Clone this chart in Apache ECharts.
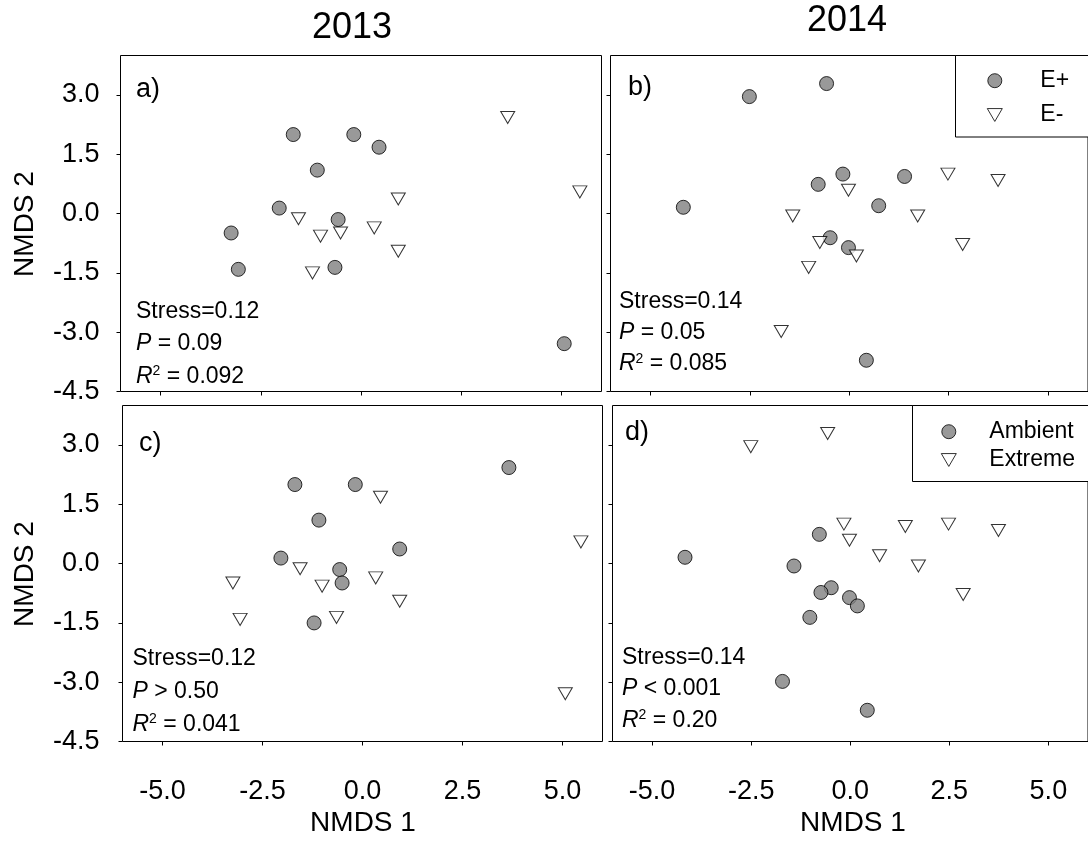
<!DOCTYPE html>
<html>
<head>
<meta charset="utf-8">
<title>NMDS ordinations 2013-2014</title>
<script src="https://cdn.jsdelivr.net/npm/echarts@6.0.0/dist/echarts.min.js"></script>
<style>
  html, body { margin: 0; padding: 0; background: #fff; }
  #chart { width: 1088px; height: 841px; }
</style>
</head>
<body>
<div id="chart"></div>
<script>
// ---- 2013 ordination: site scores and treatments (19 plots) ----
const nmds1_2013 = [-1.69, -2.04, -3.24, -3.06, -0.18, 0.45, -1.09, -0.57, -0.65, 5.07,
                    3.66, 5.46, 0.93, -1.01, -0.51, 0.33, 0.93, -1.21, -1.56];
const nmds2_2013 = [2.00, 0.14, -0.49, -1.41, 2.00, 1.68, 1.10, -0.15, -1.36, -3.29,
                    2.43, 0.55, 0.37, -0.57, -0.49, -0.36, -0.95, -1.50, -0.13];
const endophyte2013 = ['E+', 'E+', 'E+', 'E+', 'E+', 'E+', 'E+', 'E+', 'E+', 'E+',
                       'E-', 'E-', 'E-', 'E-', 'E-', 'E-', 'E-', 'E-', 'E-'];
const rainfall2013 = ['Ambient', 'Ambient', 'Extreme', 'Extreme', 'Ambient', 'Extreme', 'Ambient', 'Ambient', 'Extreme', 'Extreme',
                      'Ambient', 'Extreme', 'Ambient', 'Extreme', 'Ambient', 'Extreme', 'Extreme', 'Ambient', 'Extreme'];

// ---- 2014 ordination: site scores and treatments (20 plots) ----
const nmds1_2014 = [-2.51, -0.57, -4.17, -0.16, -0.78, 1.39, 0.74, -0.48, -0.02, 0.43,
                    -0.02, 2.48, 3.74, -1.42, 1.72, -0.74, 0.18, 2.85, -1.02, -1.71];
const nmds2_2014 = [2.96, 3.29, 0.16, 1.00, 0.74, 0.94, 0.20, -0.61, -0.86, -3.71,
                    0.59, 1.00, 0.84, -0.06, -0.06, -0.73, -1.07, -0.78, -1.36, -2.98];
const endophyte2014 = ['E+', 'E+', 'E+', 'E+', 'E+', 'E+', 'E+', 'E+', 'E+', 'E+',
                       'E-', 'E-', 'E-', 'E-', 'E-', 'E-', 'E-', 'E-', 'E-', 'E-'];
const rainfall2014 = ['Extreme', 'Extreme', 'Ambient', 'Extreme', 'Ambient', 'Extreme', 'Extreme', 'Ambient', 'Ambient', 'Ambient',
                      'Extreme', 'Extreme', 'Extreme', 'Ambient', 'Extreme', 'Ambient', 'Ambient', 'Extreme', 'Ambient', 'Ambient'];

// ---- axis ticks and panel text ----
const xTicks = [-5, -2.5, 0, 2.5, 5];
const yTicks = [-4.5, -3, -1.5, 0, 1.5, 3];
const yearTitles = ['2013', '2014'];
const panelLetters = ['a)', 'b)', 'c)', 'd)'];
const stressText = ['Stress=0.12', 'Stress=0.14', 'Stress=0.12', 'Stress=0.14'];
const pText = ['= 0.09', '= 0.05', '> 0.50', '< 0.001'];
const r2Text = ['= 0.092', '= 0.085', '= 0.041', '= 0.20'];
const endophyteLevels = ['E+', 'E-'];
const rainfallLevels = ['Ambient', 'Extreme'];

const FONT = '"Liberation Sans", Arial, Helvetica, sans-serif';
const DOWN_TRIANGLE = 'path://M0,0L14,0L7,12Z';

// panel layout: a (2013 endophyte), b (2014 endophyte), c (2013 rainfall), d (2014 rainfall)
const panels = [
  { grid: { left: 120.5, top: 55.5, width: 481, height: 336 }, xs: nmds1_2013, ys: nmds2_2013, groups: endophyte2013, levels: endophyteLevels, xLabels: false, yLabels: true, yMargin: 21,
    letter: [136, 89.6], text: [136, 311.3, 32.5] },
  { grid: { left: 610.5, top: 55.5, width: 480, height: 336 }, xs: nmds1_2014, ys: nmds2_2014, groups: endophyte2014, levels: endophyteLevels, xLabels: false, yLabels: false, yMargin: 21,
    letter: [628, 87.3], text: [619, 301.3, 31.2] },
  { grid: { left: 122.5, top: 405.5, width: 480, height: 336 }, xs: nmds1_2013, ys: nmds2_2013, groups: rainfall2013, levels: rainfallLevels, xLabels: true, yLabels: true, yMargin: 23,
    letter: [139, 443.3], text: [132.5, 658.7, 32.8] },
  { grid: { left: 612.5, top: 405.5, width: 480, height: 336 }, xs: nmds1_2014, ys: nmds2_2014, groups: rainfall2014, levels: rainfallLevels, xLabels: true, yLabels: false, yMargin: 21,
    letter: [625, 432.3], text: [622, 657.7, 31.3] }
];

function pointsFor(p, level) {
  const out = [];
  for (let i = 0; i < p.xs.length; i++) {
    if (p.groups[i] === level) out.push([p.xs[i], p.ys[i]]);
  }
  return out;
}

const circleStyle = { color: '#808080', borderColor: '#000', borderWidth: 1 };
const triangleStyle = { color: '#ffffff', borderColor: '#000', borderWidth: 1 };

const grids = [], xAxes = [], yAxes = [], series = [], graphics = [];
const statFont = '23px ' + FONT;
const statRich = {
  i: { fontStyle: 'italic', fontSize: 23, fontFamily: FONT, lineHeight: 24 },
  s: { fontSize: 14, fontFamily: FONT, lineHeight: 14, verticalAlign: 'top' }
};

panels.forEach((p, i) => {
  grids.push(Object.assign({ show: true, borderColor: '#000', borderWidth: 1, backgroundColor: 'transparent' }, p.grid));
  xAxes.push({
    gridIndex: i, type: 'value', min: -6, max: 6,
    axisLine: { show: false, onZero: false },
    splitLine: { show: false },
    axisTick: { show: true, inside: false, length: 4, customValues: xTicks, lineStyle: { color: '#000', width: 1 } },
    axisLabel: { show: p.xLabels, customValues: xTicks, margin: 37, color: '#000', fontSize: 27, fontFamily: FONT,
                 formatter: v => v.toFixed(1) }
  });
  yAxes.push({
    gridIndex: i, type: 'value', min: -4.5, max: 4,
    axisLine: { show: false, onZero: false },
    splitLine: { show: false },
    axisTick: { show: true, inside: false, length: 4, customValues: yTicks, lineStyle: { color: '#000', width: 1 } },
    axisLabel: { show: p.yLabels, customValues: yTicks, margin: p.yMargin, color: '#000', fontSize: 27, fontFamily: FONT,
                 formatter: v => v.toFixed(1) }
  });
  // filled circles first, open down-triangles drawn over them
  series.push({
    type: 'scatter', name: p.levels[0], xAxisIndex: i, yAxisIndex: i,
    symbol: 'circle', symbolSize: 14, itemStyle: circleStyle,
    data: pointsFor(p, p.levels[0]), emphasis: { disabled: true }, z: 3
  });
  series.push({
    type: 'scatter', name: p.levels[1], xAxisIndex: i, yAxisIndex: i,
    symbol: DOWN_TRIANGLE, symbolSize: [14, 12], itemStyle: triangleStyle,
    data: pointsFor(p, p.levels[1]), emphasis: { disabled: true }, z: 4
  });

  // panel letter
  graphics.push({ type: 'text', x: p.letter[0], y: p.letter[1], z: 10,
    style: { text: panelLetters[i], fill: '#000', font: '27px ' + FONT, align: 'left', verticalAlign: 'middle' } });

  // ordination statistics
  const [tx, ty, dy] = p.text;
  graphics.push({ type: 'text', x: tx, y: ty, z: 10,
    style: { text: stressText[i], fill: '#000', font: statFont, align: 'left', verticalAlign: 'middle' } });
  graphics.push({ type: 'text', x: tx, y: ty + dy, z: 10,
    style: { text: '{i|P} ' + pText[i], fill: '#000', font: statFont, lineHeight: 24, align: 'left', verticalAlign: 'middle',
             rich: statRich } });
  graphics.push({ type: 'text', x: tx, y: ty + 2 * dy, z: 10,
    style: { text: '{i|R}{s|2} ' + r2Text[i], fill: '#000', font: statFont, lineHeight: 24, align: 'left', verticalAlign: 'middle',
             rich: statRich } });
});

// column titles
graphics.push({ type: 'text', x: 352, y: 28, style: { text: yearTitles[0], fill: '#000', font: '36px ' + FONT, align: 'center', verticalAlign: 'middle' } });
graphics.push({ type: 'text', x: 847, y: 21, style: { text: yearTitles[1], fill: '#000', font: '36px ' + FONT, align: 'center', verticalAlign: 'middle' } });

// axis titles
[224, 574].forEach(cy => {
  graphics.push({ type: 'text', x: 25, y: cy, rotation: Math.PI / 2,
    style: { text: 'NMDS 2', fill: '#000', font: '28px ' + FONT, align: 'center', verticalAlign: 'middle' } });
});
[363, 853].forEach(cx => {
  graphics.push({ type: 'text', x: cx, y: 823,
    style: { text: 'NMDS 1', fill: '#000', font: '28px ' + FONT, align: 'center', verticalAlign: 'middle' } });
});

// legend frames (anchored to the top of panels b and d)
graphics.push({ type: 'rect', z: 5, shape: { x: 955.5, y: 55.5, width: 140, height: 81.5 },
  style: { fill: '#fff', stroke: '#000', lineWidth: 1 } });
graphics.push({ type: 'rect', z: 5, shape: { x: 912.5, y: 405.5, width: 180, height: 76 },
  style: { fill: '#fff', stroke: '#000', lineWidth: 1 } });

function legendTextStyle(gap) {
  return { color: '#000', fontSize: 23, fontFamily: FONT, lineHeight: 23,
           rich: { g: { width: gap, fontSize: 23, lineHeight: 23 } } };
}
const option = {
  animation: false,
  backgroundColor: '#fff',
  grid: grids,
  xAxis: xAxes,
  yAxis: yAxes,
  series: series,
  graphic: { elements: graphics },
  legend: [
    { orient: 'vertical', left: 986.8, top: 69.2, padding: 0, itemGap: 11.3, itemWidth: 15, itemHeight: 14,
      symbolKeepAspect: true, selectedMode: false, z: 20, textStyle: legendTextStyle(33),
      formatter: name => '{g|}' + name,
      itemStyle: { borderColor: '#000', borderWidth: 1 },
      data: [{ name: 'E+', icon: 'circle' }, { name: 'E-', icon: DOWN_TRIANGLE }] },
    { orient: 'vertical', left: 940.8, top: 420.2, padding: 0, itemGap: 5.3, itemWidth: 15, itemHeight: 14,
      symbolKeepAspect: true, selectedMode: false, z: 20, textStyle: legendTextStyle(28),
      formatter: name => '{g|}' + name,
      itemStyle: { borderColor: '#000', borderWidth: 1 },
      data: [{ name: 'Ambient', icon: 'circle' }, { name: 'Extreme', icon: DOWN_TRIANGLE }] }
  ]
};

const chart = echarts.init(document.getElementById('chart'));
chart.setOption(option);
</script>
</body>
</html>
